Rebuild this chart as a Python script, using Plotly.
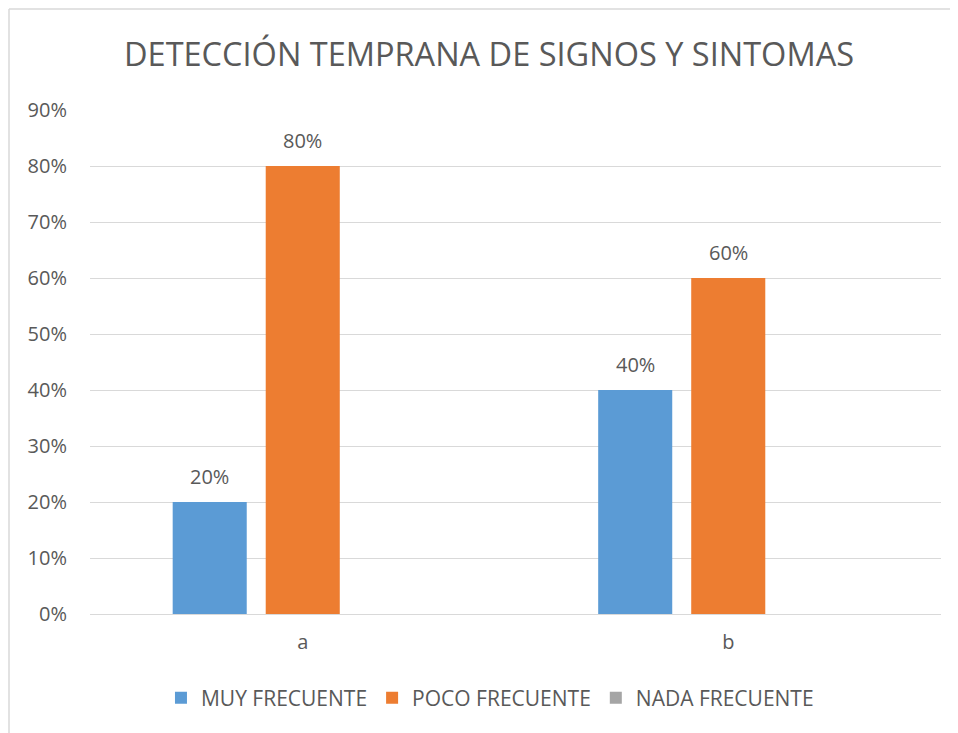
import plotly.graph_objects as go

categories = ["a", "b"]
series_names = ["MUY FRECUENTE", "POCO FRECUENTE", "NADA FRECUENTE"]
muy_frecuente = [0.20, 0.40]
poco_frecuente = [0.80, 0.60]
nada_frecuente = [0.0, 0.0]
colors = ["#5B9BD5", "#ED7D31", "#A5A5A5"]
y_ticks = [0, 0.1, 0.2, 0.3, 0.4, 0.5, 0.6, 0.7, 0.8, 0.9]
tick_labels = [f"{int(round(v*100))}%" for v in y_ticks]

FONT = "Open Sans"
TXT = "#595959"
BARGAP = 0.344
BARGROUPGAP = 0.204

all_series = [muy_frecuente, poco_frecuente, nada_frecuente]

fig = go.Figure()
for name, vals, col in zip(series_names, all_series, colors):
    fig.add_trace(go.Bar(
        x=categories, y=vals, name=name, marker=dict(color=col, line=dict(width=0)),
        hoverinfo="skip",
    ))

# data labels placed above each bar (offset derived from bar layout)
n = len(all_series)
slot = (1 - BARGAP) / n
annotations = []
for k, vals in enumerate(all_series):
    for i, v in enumerate(vals):
        if v > 0:
            annotations.append(dict(
                x=i + (k - (n - 1) / 2) * slot, y=v, xref="x", yref="y",
                text=f"{int(round(v*100))}%", showarrow=False,
                yanchor="middle", yshift=26,
                font=dict(family=FONT, size=20, color=TXT)))

# chart-area border (left and top edges visible in the crop)
bx = (1 - 82) / 851
by = (606 - 1) / 504
border = [
    dict(type="line", xref="paper", yref="paper", x0=bx, x1=bx, y0=-0.4, y1=by,
         line=dict(color="#D9D9D9", width=1.5), layer="below"),
    dict(type="line", xref="paper", yref="paper", x0=bx, x1=1.3, y0=by, y1=by,
         line=dict(color="#D9D9D9", width=1.5), layer="below"),
]

fig.update_layout(
    width=950, height=725,
    margin=dict(l=82, r=17, t=102, b=119),
    paper_bgcolor="white", plot_bgcolor="white",
    barmode="group", bargap=BARGAP, bargroupgap=BARGROUPGAP,
    title=dict(text="DETECCIÓN TEMPRANA DE SIGNOS Y SINTOMAS", x=481/950, xanchor="center",
               y=1 - 47/725, yanchor="middle",
               font=dict(family=FONT, size=32.5, color=TXT)),
    font=dict(family=FONT, color=TXT),
    showlegend=True,
    legend=dict(orientation="h", x=0.47, xanchor="center", y=-(698-614)/504, yanchor="middle",
                font=dict(family=FONT, size=21, color=TXT),
                traceorder="normal", bgcolor="rgba(0,0,0,0)"),
    yaxis=dict(range=[0, 0.9], tickvals=y_ticks, ticktext=tick_labels,
               showgrid=True, gridcolor="#D9D9D9", gridwidth=1,
               zeroline=True, zerolinecolor="#D9D9D9", zerolinewidth=1,
               showline=False, ticks="", ticklabelstandoff=22,
               tickfont=dict(family=FONT, size=20, color=TXT)),
    xaxis=dict(showgrid=False, showline=False, ticks="",
               tickfont=dict(family=FONT, size=20, color=TXT), ticklabelstandoff=14),
    annotations=annotations,
    shapes=border,
)

fig.write_html("out.html")
